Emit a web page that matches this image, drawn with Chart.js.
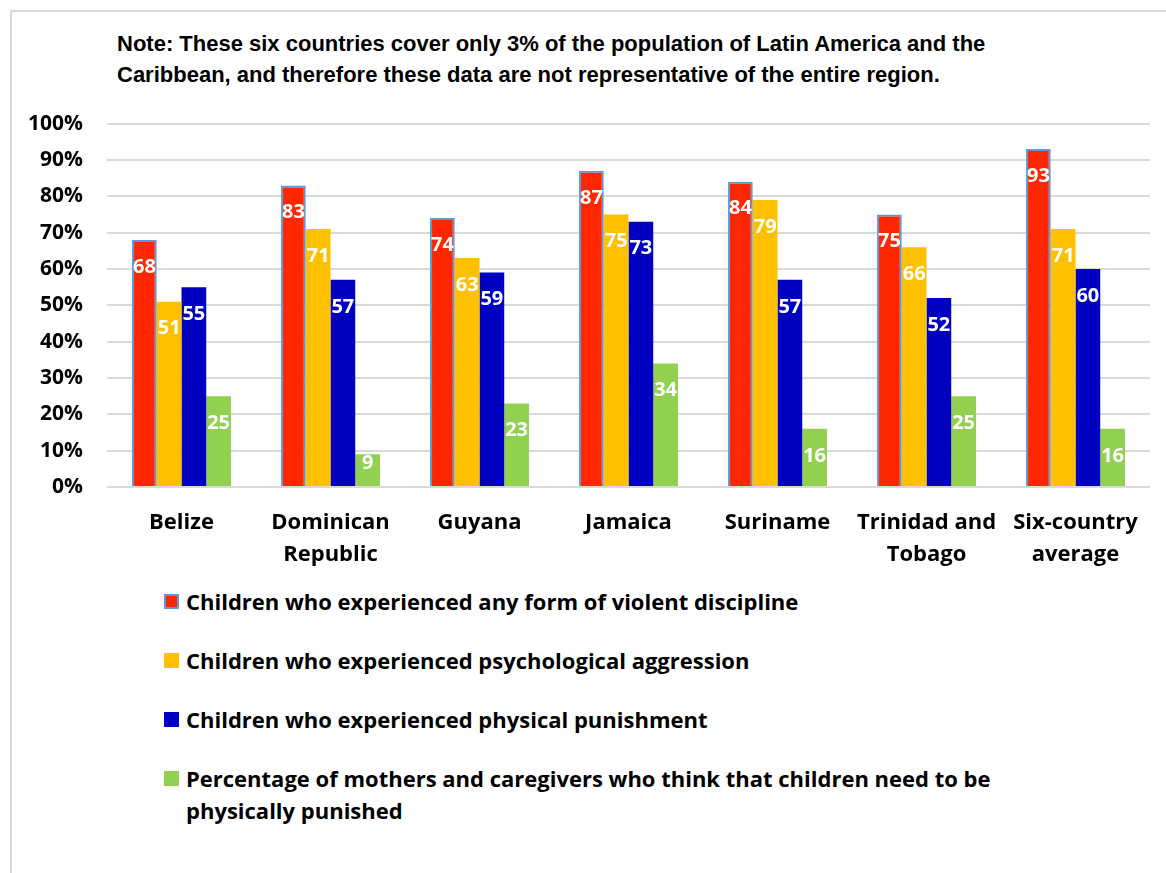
<!DOCTYPE html>
<html>
<head>
<meta charset="utf-8">
<script src="https://cdn.jsdelivr.net/npm/chart.js@4.4.1/dist/chart.umd.min.js"></script>
<style>
  html, body { margin: 0; padding: 0; background: #fff; width: 1166px; height: 873px; overflow: hidden; }
  #frame { position: absolute; left: 10px; top: 10px; width: 1170px; height: 880px; border-left: 2px solid #d9d9d9; border-top: 2px solid #d9d9d9; }
  #title { position: absolute; left: 117px; top: 28px; font-family: "Liberation Sans Narrow", "Arial Narrow", sans-serif; font-weight: bold; font-size: 22px; line-height: 31px; color: #000; }
  #wrap { position: absolute; left: 0; top: 87px; width: 1166px; height: 493px; }
  #legend { position: absolute; left: 164px; top: 585px; font-family: "Open Sans", sans-serif; font-weight: bold; font-size: 22px; color: #000; }
  .item { position: relative; padding-left: 22px; margin-bottom: 27px; line-height: 32px; width: 850px; box-sizing: border-box; }
  .box { position: absolute; left: 0; top: 9px; width: 15px; height: 15px; box-sizing: border-box; }
</style>
</head>
<body>
<div id="frame"></div>
<div id="title"></div>
<div id="wrap"><canvas id="c"></canvas></div>
<div id="legend"></div>
<script>
const titleLines = [
  "Note: These six countries cover only 3% of the population of Latin America and the",
  "Caribbean, and therefore these data are not representative of the entire region."
];
const categories = [["Belize"], ["Dominican", "Republic"], ["Guyana"], ["Jamaica"], ["Suriname"], ["Trinidad and", "Tobago"], ["Six-country", "average"]];
const seriesNames = [
  "Children who experienced any form of violent discipline",
  "Children who experienced psychological aggression",
  "Children who experienced physical punishment",
  "Percentage of mothers and caregivers who think that children need to be physically punished"
];
const violentDiscipline = [68, 83, 74, 87, 84, 75, 93];
const psychAggression = [51, 71, 63, 75, 79, 66, 71];
const physicalPunishment = [55, 57, 59, 73, 57, 52, 60];
const needPunish = [25, 9, 23, 34, 16, 25, 16];
const yTicks = [0, 10, 20, 30, 40, 50, 60, 70, 80, 90, 100];

const colors = ["#FF2600", "#FFC000", "#0000C0", "#92D050"];
const borders = ["#5B9BD5", null, null, null];

document.getElementById('title').innerHTML = titleLines.join('<br>');

const seriesData = [violentDiscipline, psychAggression, physicalPunishment, needPunish];
const datasets = seriesData.map((d, i) => ({
  label: seriesNames[i],
  data: d,
  backgroundColor: colors[i],
  borderColor: borders[i] || colors[i],
  borderWidth: borders[i] ? 2 : 0,
  categoryPercentage: 0.664,
  barPercentage: 1.0
}));

const legendEl = document.getElementById('legend');
seriesNames.forEach((n, i) => {
  const it = document.createElement('div');
  it.className = 'item';
  const b = document.createElement('span');
  b.className = 'box';
  b.style.background = colors[i];
  if (borders[i]) b.style.border = '2px solid ' + borders[i];
  it.appendChild(b);
  it.appendChild(document.createTextNode(n));
  legendEl.appendChild(it);
});

const labelPlugin = {
  id: 'barLabels',
  afterDatasetsDraw(chart) {
    const ctx = chart.ctx;
    ctx.save();
    ctx.font = 'bold 20px "Open Sans", sans-serif';
    ctx.fillStyle = '#fff';
    ctx.textAlign = 'center';
    ctx.textBaseline = 'middle';
    chart.data.datasets.forEach((ds, di) => {
      const meta = chart.getDatasetMeta(di);
      meta.data.forEach((bar, i) => {
        const h = bar.base - bar.y;
        const off = (27 + 10 > h) ? 9 : 27;
        ctx.fillText(String(ds.data[i]), bar.x, bar.y + off);
      });
    });
    ctx.restore();
  }
};

new Chart(document.getElementById('c'), {
  type: 'bar',
  data: { labels: categories, datasets },
  options: {
    responsive: true,
    maintainAspectRatio: false,
    animation: false,
    layout: { padding: { left: 0, right: 16, top: 0, bottom: 0 } },
    plugins: { legend: { display: false }, tooltip: { enabled: false }, title: { display: false } },
    scales: {
      x: {
        grid: { display: false, drawTicks: false },
        border: { display: false },
        ticks: { color: '#000', font: { family: '"Open Sans", sans-serif', weight: 'bold', size: 22, lineHeight: 1.45 }, padding: 20, maxRotation: 0, autoSkip: false },
        afterFit(s) { s.height = 93; }
      },
      y: {
        min: 0, max: 100,
        afterBuildTicks(s) { s.ticks = yTicks.map(v => ({ value: v })); },
        grid: { color: '#d9d9d9', lineWidth: 2, drawTicks: false },
        border: { display: false },
        ticks: { color: '#000', font: { family: '"Open Sans", sans-serif', weight: 'bold', size: 21 }, padding: 24, callback: v => v + '%' },
        afterFit(s) { s.width = 107; }
      }
    }
  },
  plugins: [labelPlugin]
});
</script>
</body>
</html>
